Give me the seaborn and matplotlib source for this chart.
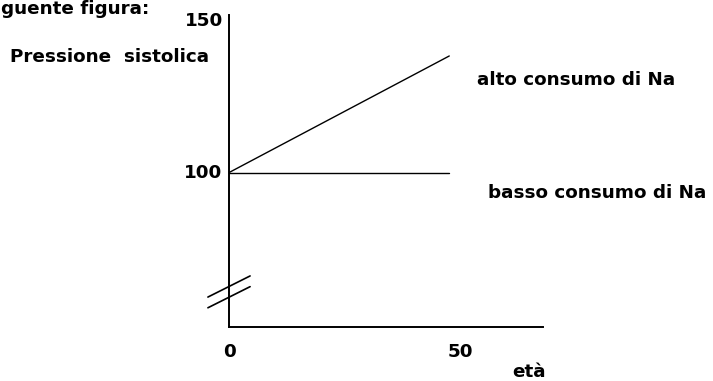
import pandas as pd
import seaborn as sns
import matplotlib.pyplot as plt

# data
eta = [0, 47]
alto = [100, 137]
basso = [100, 100]
serie = ['alto consumo di Na', 'basso consumo di Na']
y_ticks = [100, 150]
x_ticks = [0, 50]

df = pd.DataFrame({
    'eta': eta + eta,
    'pressione': alto + basso,
    'serie': [serie[0]] * len(eta) + [serie[1]] * len(eta),
})

sns.set_style('white')
plt.rcParams['font.family'] = ['DejaVu Sans']

fig = plt.figure(figsize=(7.13, 3.81), dpi=100)
ax = fig.add_axes([229 / 713, 54 / 381, 314 / 713, 312 / 381])

sns.lineplot(data=df, x='eta', y='pressione', units='serie', estimator=None,
             color='black', linewidth=1.0, legend=False, ax=ax)

ax.set_xlim(0, 67)
ax.set_ylim(51, 150)
ax.set_xticks([])
ax.set_yticks([])
ax.set_xlabel('')
ax.set_ylabel('')
sns.despine(ax=ax)
for s in ['left', 'bottom']:
    ax.spines[s].set_linewidth(1.4)
    ax.spines[s].set_color('black')

fs = 13.2
tkw = dict(fontsize=fs, fontweight='bold', color='black')

# tick values
ax.text(-1.2, y_ticks[1] - 2, str(y_ticks[1]), ha='right', va='center', **tkw)
ax.text(-1.5, y_ticks[0], str(y_ticks[0]), ha='right', va='center', **tkw)
ax.text(x_ticks[0], -0.08, str(x_ticks[0]), transform=ax.get_xaxis_transform(),
        ha='center', va='center', **tkw)
ax.text(x_ticks[1] - 0.6, -0.08, str(x_ticks[1]), transform=ax.get_xaxis_transform(),
        ha='center', va='center', **tkw)
ax.text(64, -0.145, 'età', transform=ax.get_xaxis_transform(),
        ha='center', va='center', **tkw)

# labels
fig.text(110 / 713, 1 - 57 / 381, 'Pressione  sistolica', ha='center', va='center', **tkw)
fig.text(1 / 713, 1 - 9 / 381, 'guente figura:', ha='left', va='center', **tkw)
fig.text(576 / 713, 1 - 80 / 381, serie[0], ha='center', va='center', **tkw)
fig.text(597 / 713, 1 - 193 / 381, serie[1], ha='center', va='center', **tkw)

# axis break marks
ax.plot([-4.5, 4.5], [60.5, 67.2], color='black', lw=1.2, clip_on=False)
ax.plot([-4.5, 4.5], [57.1, 63.8], color='black', lw=1.2, clip_on=False)

fig.savefig('out.png', dpi=100)
